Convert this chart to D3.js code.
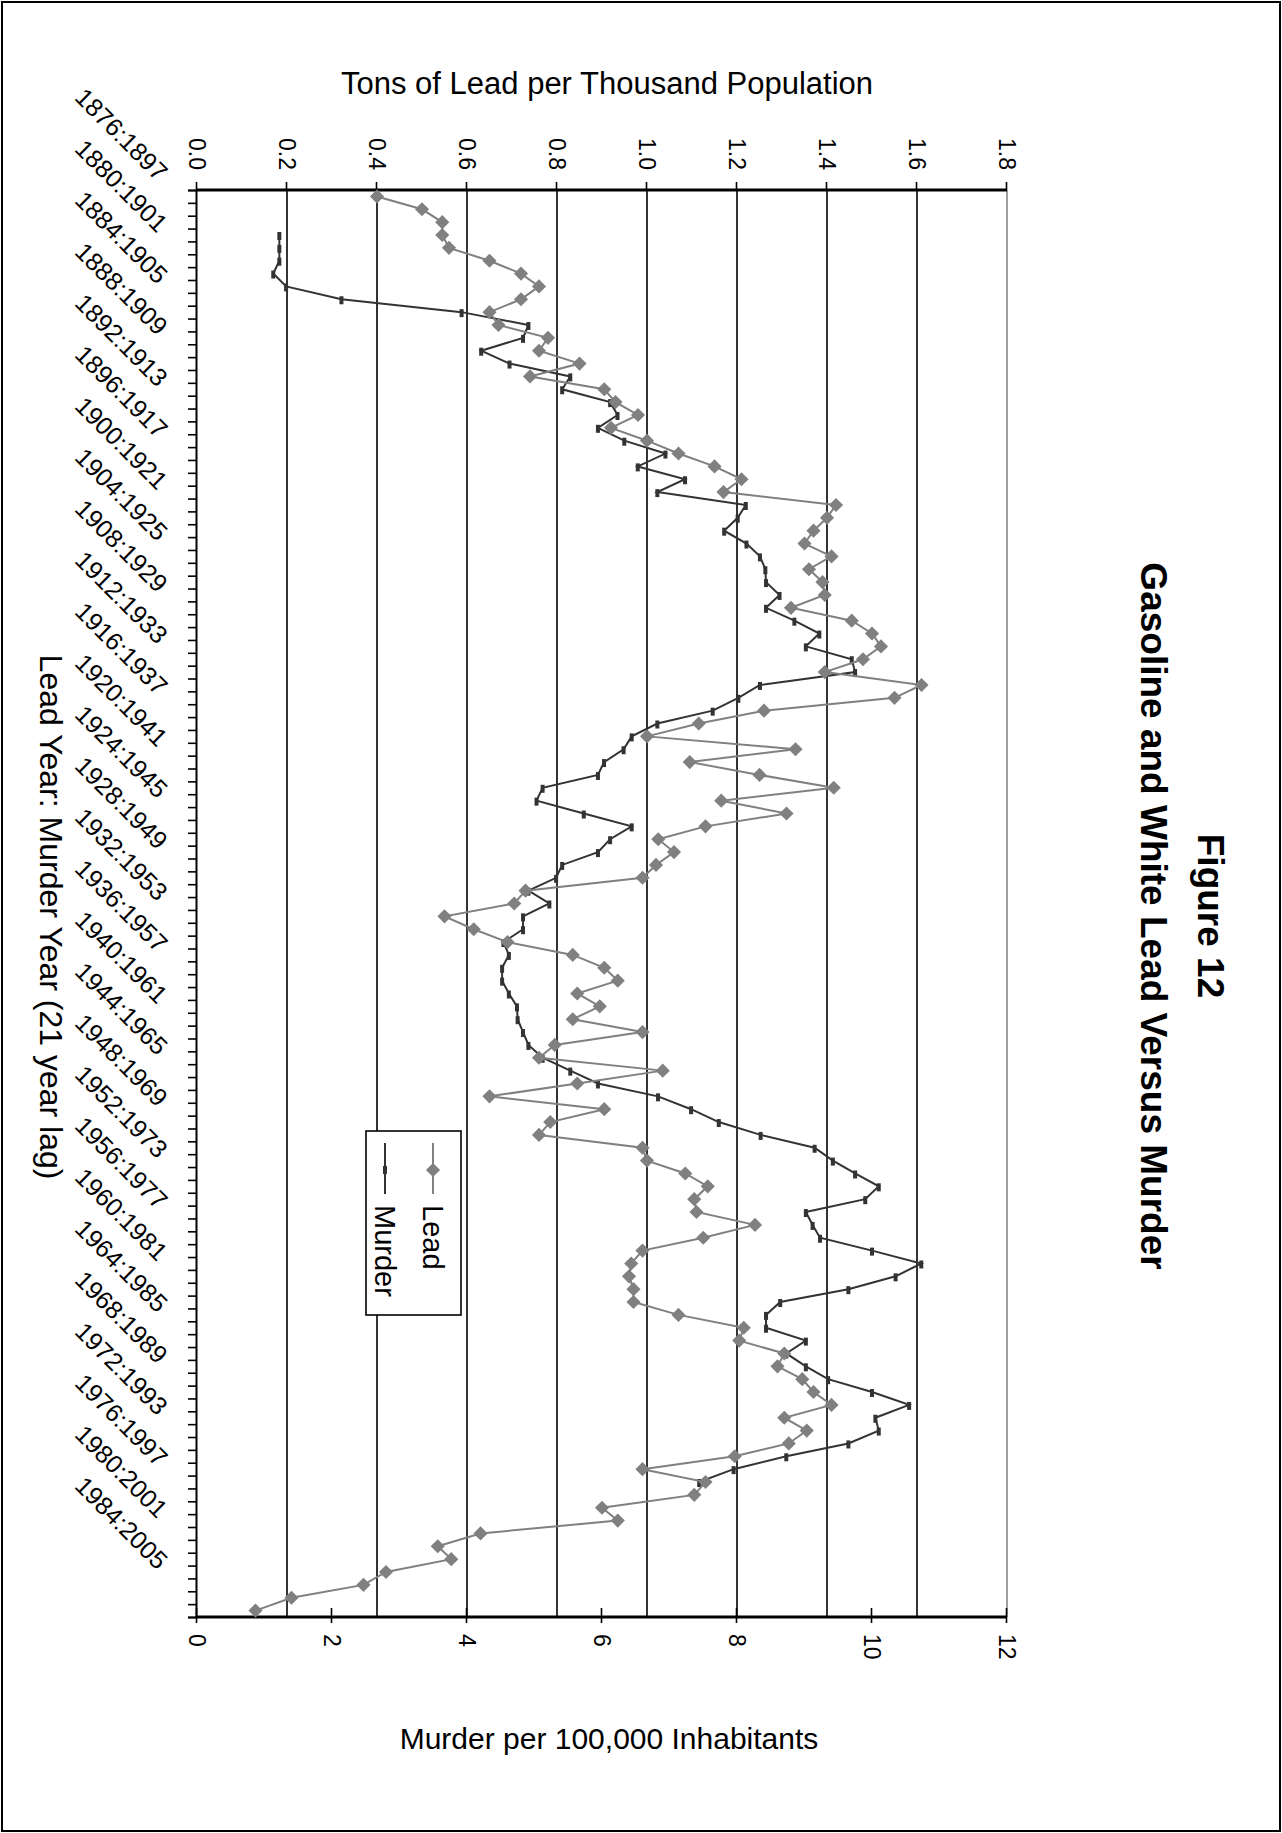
<!DOCTYPE html>
<html>
<head>
<meta charset="utf-8">
<script src="https://cdn.jsdelivr.net/npm/d3@7"></script>
<style>
  body { margin: 0; background: #fff; }
  svg text { font-family: "Liberation Sans", Arial, sans-serif; fill: #000; }
</style>
</head>
<body>
<div id="chart"></div>
<script>
// Figure 12 - drawn as an upright Excel style chart, then turned 90deg clockwise

// lead year per category, murder year is lead year + 21
const leadYears = d3.range(1876, 1987);
const lag = 21;

// tons of lead per thousand population, one value per lead year 1876..1986
const lead = [
  0.40, 0.50, 0.545, 0.545, 0.56, 0.65, 0.72, 0.76, 0.72, 0.65,
  0.67, 0.78, 0.76, 0.85, 0.74, 0.905, 0.93, 0.98, 0.92, 1.00,
  1.07, 1.15, 1.21, 1.17, 1.42, 1.40, 1.37, 1.35, 1.41, 1.36,
  1.39, 1.395, 1.32, 1.455, 1.50, 1.52, 1.48, 1.395, 1.61, 1.55,
  1.26, 1.115, 1.00, 1.33, 1.095, 1.25, 1.415, 1.165, 1.31, 1.13,
  1.025, 1.06, 1.02, 0.99, 0.73, 0.705, 0.55, 0.615, 0.69, 0.835,
  0.905, 0.935, 0.845, 0.895, 0.835, 0.99, 0.795, 0.76, 1.035, 0.845,
  0.65, 0.905, 0.785, 0.76, 0.99, 1.00, 1.085, 1.135, 1.105, 1.11,
  1.24, 1.125, 0.99, 0.965, 0.96, 0.97, 0.97, 1.07, 1.215, 1.205,
  1.305, 1.29, 1.345, 1.37, 1.41, 1.305, 1.355, 1.315, 1.195, 0.99,
  1.13, 1.105, 0.90, 0.935, 0.63, 0.535, 0.565, 0.42, 0.37, 0.21,
  0.13
];

// murder per 100,000, murder years 1900..1997
const murderFirstYear = 1900;
const murder = [
  1.22, 1.22, 1.22, 1.13, 1.32, 2.14, 3.92, 4.91, 4.83, 4.21,
  4.63, 5.53, 5.41, 6.12, 6.23, 5.94, 6.33, 6.94, 6.53, 7.23,
  6.82, 8.13, 8.01, 7.81, 8.14, 8.34, 8.42, 8.43, 8.63, 8.43,
  8.85, 9.22, 9.02, 9.70, 9.75, 8.34, 8.02, 7.64, 6.82, 6.44,
  6.32, 6.03, 5.94, 5.12, 5.03, 5.73, 6.44, 6.12, 5.94, 5.41,
  5.32, 4.91, 5.22, 4.83, 4.83, 4.54, 4.62, 4.52, 4.52, 4.62,
  4.74, 4.75, 4.83, 4.91, 5.12, 5.53, 5.94, 6.83, 7.32, 7.73,
  8.35, 9.15, 9.42, 9.75, 10.1, 9.9, 9.02, 9.12, 9.23, 10.0,
  10.73, 10.35, 9.65, 8.64, 8.43, 8.43, 9.02, 8.73, 9.02, 9.35,
  10.0, 10.55, 10.05, 10.1, 9.65, 8.73, 7.95, 7.44
];

const leadTicks = [0, 0.2, 0.4, 0.6, 0.8, 1.0, 1.2, 1.4, 1.6, 1.8];
const murderTicks = [0, 2, 4, 6, 8, 10, 12];
const labelEvery = 4;

const width = 1282, height = 1833;
// plot box on the page (after turning)
const box = {left: 197, top: 190, right: 1007, bottom: 1617};
const W = box.bottom - box.top;   // category length in the upright chart
const H = box.right - box.left;   // value height in the upright chart

const svg = d3.select('#chart').append('svg')
    .attr('width', width)
    .attr('height', height);

svg.append('rect')
    .attr('x', 2).attr('y', 2)
    .attr('width', width - 4).attr('height', height - 4)
    .attr('fill', '#fff')
    .attr('stroke', '#000')
    .attr('stroke-width', 2);

const g = svg.append('g')
    .attr('transform', `translate(${box.right},${box.top}) rotate(90)`);

const n = leadYears.length;
const x = d3.scaleLinear().domain([0, n]).range([0, W]);
const yLead = d3.scaleLinear().domain([0, 1.8]).range([H, 0]);
const yMurder = d3.scaleLinear().domain([0, 12]).range([H, 0]);

// gridlines
g.selectAll('line.grid')
    .data(leadTicks.filter(t => t > 0))
    .join('line')
    .attr('class', 'grid')
    .attr('x1', 0).attr('x2', W)
    .attr('y1', d => yLead(d)).attr('y2', d => yLead(d))
    .attr('stroke', d => d === 1.8 ? '#888' : '#000')
    .attr('stroke-width', 1.6);

// lead axis (top of the page)
const leadAxis = g.append('g')
    .call(d3.axisLeft(yLead).tickValues(leadTicks).tickFormat(d3.format('.1f')).tickSize(8).tickPadding(12));
leadAxis.select('.domain').remove();
leadAxis.selectAll('.tick line').attr('stroke', '#000').attr('stroke-width', 1.6);
leadAxis.selectAll('text').style('font-size', '23px');
g.append('line')
    .attr('x1', 0).attr('x2', 0).attr('y1', 0).attr('y2', H)
    .attr('stroke', '#000').attr('stroke-width', 3);

// murder axis (bottom of the page)
const murderAxis = g.append('g')
    .attr('transform', `translate(${W},0)`)
    .call(d3.axisRight(yMurder).tickValues(murderTicks).tickSize(6).tickPadding(11));
murderAxis.select('.domain').remove();
murderAxis.selectAll('.tick line').attr('x1', -9).attr('x2', 6).attr('stroke', '#000').attr('stroke-width', 1.6);
murderAxis.selectAll('text').style('font-size', '23px');
g.append('line')
    .attr('x1', W).attr('x2', W).attr('y1', 0).attr('y2', H)
    .attr('stroke', '#000').attr('stroke-width', 3);

// category axis (left of the page)
const catAxis = g.append('g')
    .attr('transform', `translate(0,${H})`)
    .call(d3.axisBottom(x).tickValues(d3.range(0, n + 1)).tickFormat('').tickSize(9));
catAxis.select('.domain').attr('stroke', '#000').attr('stroke-width', 2);
catAxis.selectAll('.tick line').attr('stroke', '#000').attr('stroke-width', 1.6);

g.selectAll('text.cat')
    .data(leadYears.filter((d, i) => i % labelEvery === 0))
    .join('text')
    .attr('class', 'cat')
    .attr('transform', d => `translate(${x(d - leadYears[0] + 0.5) - 14},${H + 40}) rotate(-45)`)
    .attr('text-anchor', 'end')
    .style('font-size', '25px')
    .text(d => `${d}:${d + lag}`);

// murder series
const mOffset = murderFirstYear - lag - leadYears[0];
const murderLine = d3.line()
    .x((d, i) => x(i + mOffset + 0.5))
    .y(d => yMurder(d));
g.append('path')
    .datum(murder)
    .attr('d', murderLine)
    .attr('fill', 'none')
    .attr('stroke', '#333')
    .attr('stroke-width', 2);
g.selectAll('rect.mk')
    .data(murder)
    .join('rect')
    .attr('class', 'mk')
    .attr('x', (d, i) => x(i + mOffset + 0.5) - 3)
    .attr('y', d => yMurder(d) - 2)
    .attr('width', 8).attr('height', 4)
    .attr('fill', '#333');

// lead series
const leadLine = d3.line()
    .x((d, i) => x(i + 0.5))
    .y(d => yLead(d));
g.append('path')
    .datum(lead)
    .attr('d', leadLine)
    .attr('fill', 'none')
    .attr('stroke', '#808080')
    .attr('stroke-width', 2);
const diamond = d3.symbol().type(d3.symbolSquare).size(100);
g.selectAll('path.dm')
    .data(lead)
    .join('path')
    .attr('class', 'dm')
    .attr('d', diamond)
    .attr('transform', (d, i) => `translate(${x(i + 0.5)},${yLead(d)}) rotate(45)`)
    .attr('fill', '#808080');

// legend
const lg = g.append('g').attr('transform', 'translate(941,546)');
lg.append('rect')
    .attr('width', 184).attr('height', 95)
    .attr('fill', '#fff').attr('stroke', '#000').attr('stroke-width', 1.6);
lg.append('line').attr('x1', 12).attr('x2', 63).attr('y1', 28).attr('y2', 28)
    .attr('stroke', '#808080').attr('stroke-width', 2);
lg.append('path').attr('d', diamond).attr('transform', 'translate(39,28) rotate(45)').attr('fill', '#808080');
lg.append('text').attr('x', 74).attr('y', 28).attr('dy', '0.35em').style('font-size', '29px').text('Lead');
lg.append('line').attr('x1', 12).attr('x2', 63).attr('y1', 76).attr('y2', 76)
    .attr('stroke', '#333').attr('stroke-width', 2);
lg.append('rect').attr('x', 35).attr('y', 74).attr('width', 8).attr('height', 4).attr('fill', '#333');
lg.append('text').attr('x', 74).attr('y', 76).attr('dy', '0.35em').style('font-size', '29px').text('Murder');

// titles
svg.append('text')
    .attr('transform', 'translate(1198,916) rotate(90)')
    .attr('text-anchor', 'middle')
    .style('font-size', '37px').style('font-weight', 'bold')
    .text('Figure 12');
svg.append('text')
    .attr('transform', 'translate(1141,916) rotate(90)')
    .attr('text-anchor', 'middle')
    .style('font-size', '37px').style('font-weight', 'bold')
    .text('Gasoline and White Lead Versus Murder');
svg.append('text')
    .attr('transform', 'translate(40,917) rotate(90)')
    .attr('text-anchor', 'middle')
    .style('font-size', '32px')
    .text('Lead Year: Murder Year (21 year lag)');
svg.append('text')
    .attr('x', 607).attr('y', 94)
    .attr('text-anchor', 'middle')
    .style('font-size', '31px')
    .text('Tons of Lead per Thousand Population');
svg.append('text')
    .attr('x', 609).attr('y', 1749)
    .attr('text-anchor', 'middle')
    .style('font-size', '30px')
    .text('Murder per 100,000 Inhabitants');
</script>
</body>
</html>
